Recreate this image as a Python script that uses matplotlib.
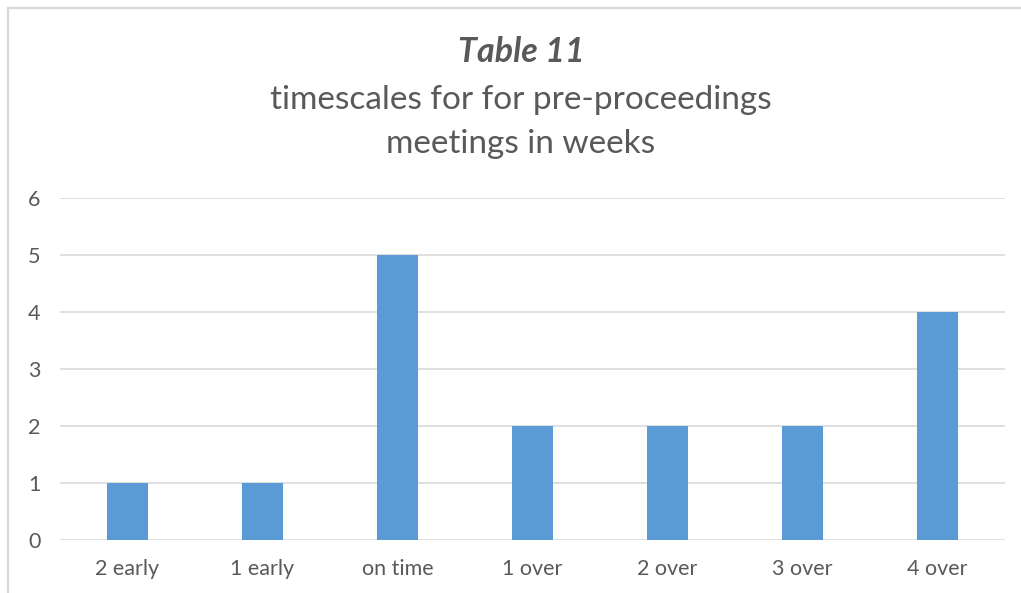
import matplotlib
matplotlib.use("Agg")
import matplotlib.pyplot as plt
from matplotlib.lines import Line2D

categories = ["2 early", "1 early", "on time", "1 over", "2 over", "3 over", "4 over"]
counts = [1, 1, 5, 2, 2, 2, 4]
y_ticks = [0, 1, 2, 3, 4, 5, 6]

plt.rcParams['font.family'] = ['Lato', 'DejaVu Sans']

W, H = 1021, 593
fig = plt.figure(figsize=(W / 100, H / 100), dpi=100)
fig.patch.set_facecolor("white")

# chart frame edges (top and left)
fig.add_artist(Line2D([8 / W, 1.0], [(H - 8) / H, (H - 8) / H],
                      transform=fig.transFigure, color="#d9d9d9", linewidth=1.6))
fig.add_artist(Line2D([8 / W, 8 / W], [0.0, (H - 8) / H],
                      transform=fig.transFigure, color="#d9d9d9", linewidth=1.6))

ax = fig.add_axes([60 / W, (H - 540) / H, (1005 - 60) / W, (540 - 198) / H])
x = list(range(len(categories)))
ax.bar(x, counts, width=0.31, color="#5b9bd5", zorder=3)
ax.set_xlim(-0.5, len(categories) - 0.5)
ax.set_ylim(0, 6)
ax.set_yticks(y_ticks)
ax.set_xticks(x)
ax.set_xticklabels(categories)
ax.yaxis.grid(True, color="#d9d9d9", linewidth=1.2, zorder=0)
ax.tick_params(length=0, labelsize=15.5, labelcolor="#595959")
ax.tick_params(axis="y", pad=14)
ax.tick_params(axis="x", pad=14)
for s in ax.spines.values():
    s.set_visible(False)

cx = 521 / W
fig.text(cx, (H - 52) / H, "Table 11", ha="center", va="center",
         fontsize=24.5, fontweight="bold", fontstyle="italic", color="#595959")
fig.text(cx, (H - 100) / H, "timescales for for pre-proceedings", ha="center",
         va="center", fontsize=24, color="#595959")
fig.text(cx, (H - 144) / H, "meetings in weeks", ha="center",
         va="center", fontsize=24, color="#595959")

fig.savefig("out.png", dpi=100, facecolor="white")
